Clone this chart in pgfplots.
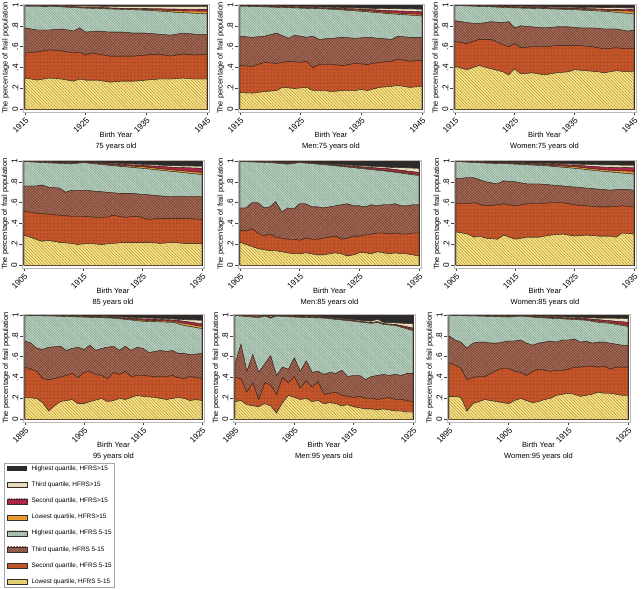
\documentclass[border=0pt]{standalone}
\usepackage{pgfplots}
\pgfplotsset{compat=1.18}
\usetikzlibrary{patterns.meta}
\usepackage{fontspec}
\setmainfont{Liberation Sans}
\definecolor{cLine}{HTML}{3A2A22}
\definecolor{cDark}{HTML}{2B2B2B}
\definecolor{cBeige}{HTML}{EAE4C6}
\definecolor{cBeigeP}{HTML}{CFC69C}
\definecolor{cCrim}{HTML}{C42A50}
\definecolor{cCrimP}{HTML}{8A1838}
\definecolor{cOrng}{HTML}{F0A236}
\definecolor{cOrngP}{HTML}{D07E1E}
\definecolor{cGreen}{HTML}{BFD4C5}
\definecolor{cGreenP}{HTML}{7E9E8C}
\definecolor{cBrown}{HTML}{AE7460}
\definecolor{cBrownP}{HTML}{784434}
\definecolor{cRed}{HTML}{C9592C}
\definecolor{cRedP}{HTML}{983A1A}
\definecolor{cYel}{HTML}{FAE488}
\definecolor{cYelP}{HTML}{AE8E3A}
\newcommand\tickfont{\fontsize{8.3}{9}\selectfont}
\newcommand\labfont{\fontsize{7.5}{10.5}\selectfont}
\pgfplotsset{
  panel/.style={
    scale only axis, height=108pt, anchor=north west,
    ymin=-0.026, ymax=1.0096,
    ytick={0,0.2,0.4,0.6,0.8,1}, yticklabels={0,.2,.4,.6,.8,1},
    tick align=outside, xtick pos=left, ytick pos=left,
    major tick length=3pt,
    tick style={draw=black!75, line width=0.5pt},
    axis line style={draw=gray!55, line width=0.7pt},
    xticklabel style={rotate=45, anchor=north east, inner sep=1pt, font=\tickfont},
    yticklabel style={rotate=90, anchor=south, inner sep=1.5pt, font=\tickfont},
    ylabel={The percentage of frail population},
    every axis y label/.style={at={(axis description cs:-0.093,0.5)}, anchor=center, rotate=90, font=\labfont, inner sep=0pt},
    every axis x label/.style={at={(axis description cs:0.5,0)}, anchor=north, yshift=-20pt, align=center, font=\labfont, inner sep=0pt},
  },
  r1/.style={xmin=1914.66, xmax=1945.34, xtick={1915,1925,1935,1945}, xticklabels={1915,1925,1935,1945}},
  r2/.style={xmin=1904.66, xmax=1935.34, xtick={1905,1915,1925,1935}, xticklabels={1905,1915,1925,1935}},
  r3/.style={xmin=1894.66, xmax=1925.34, xtick={1895,1905,1915,1925}, xticklabels={1895,1905,1915,1925}},
  L8/.style={fill=cDark, draw=cLine, line width=0.35pt},
  L7/.style={fill=cBeige, draw=cLine, line width=0.35pt, postaction={pattern={Dots[distance=1.6pt,radius=0.4pt]}, pattern color=cBeigeP}},
  L6/.style={fill=cCrim, draw=cLine, line width=0.35pt, postaction={pattern={Lines[angle=45,distance=1.8pt,line width=0.5pt]}, pattern color=cCrimP}},
  L5/.style={fill=cOrng, draw=cLine, line width=0.35pt, postaction={pattern={Dots[distance=1.6pt,radius=0.4pt]}, pattern color=cOrngP}},
  L4/.style={fill=cGreen, draw=cLine, line width=0.35pt, postaction={pattern={Lines[angle=-45,distance=1.8pt,line width=0.5pt]}, pattern color=cGreenP}},
  L3/.style={fill=cBrown, draw=cLine, line width=0.35pt, postaction={pattern={Hatch[angle=45,distance=2pt,line width=0.45pt]}, pattern color=cBrownP}},
  L2/.style={fill=cRed, draw=cLine, line width=0.35pt, postaction={pattern={Dots[distance=1.4pt,radius=0.35pt]}, pattern color=cRedP}},
  L1/.style={fill=cYel, draw=cLine, line width=0.35pt, postaction={pattern={Lines[angle=-45,distance=2.2pt,line width=0.45pt]}, pattern color=cYelP}},
}
\begin{document}
\begin{tikzpicture}
\path[use as bounding box] (0,0) rectangle (641pt,-589pt);

% ---------- Row 1: 75 years old ----------
\begin{axis}[panel, r1, at={(23pt,-4pt)}, width=186pt, xlabel={Birth Year\\75 years old}]
\addplot[L8] coordinates {(1915,1)(1945,1)} \closedcycle;
\addplot[L7] coordinates {(1915,0.997)(1920,0.994)(1925,0.99)(1930,0.985)(1935,0.985)(1940,0.985)(1945,0.985)} \closedcycle;
\addplot[L6] coordinates {(1915,0.994)(1920,0.99)(1925,0.98)(1930,0.97)(1935,0.965)(1940,0.96)(1945,0.958)} \closedcycle;
\addplot[L5] coordinates {(1915,0.992)(1920,0.988)(1925,0.975)(1930,0.965)(1935,0.958)(1940,0.945)(1945,0.94)} \closedcycle;
\addplot[L4] coordinates {(1915,0.99)(1920,0.985)(1925,0.97)(1930,0.96)(1935,0.95)(1940,0.93)(1945,0.915)} \closedcycle;
\addplot[L3] coordinates {(1915,0.78)(1917,0.76)(1919,0.76)(1921,0.77)(1923,0.75)(1924,0.78)(1925,0.74)(1927,0.75)(1929,0.74)(1931,0.74)(1933,0.73)(1935,0.73)(1937,0.72)(1939,0.71)(1941,0.73)(1943,0.72)(1945,0.72)} \closedcycle;
\addplot[L2] coordinates {(1915,0.54)(1917,0.55)(1919,0.57)(1921,0.56)(1923,0.54)(1924,0.55)(1925,0.52)(1926,0.54)(1927,0.53)(1929,0.51)(1931,0.51)(1933,0.51)(1935,0.52)(1937,0.53)(1939,0.51)(1941,0.53)(1943,0.52)(1945,0.53)} \closedcycle;
\addplot[L1] coordinates {(1915,0.30)(1917,0.28)(1919,0.30)(1921,0.29)(1923,0.27)(1924,0.29)(1925,0.28)(1927,0.28)(1929,0.26)(1931,0.27)(1933,0.27)(1935,0.28)(1937,0.29)(1939,0.29)(1941,0.30)(1943,0.29)(1945,0.29)} \closedcycle;
\end{axis}

\begin{axis}[panel, r1, at={(238pt,-4pt)}, width=186pt, xlabel={Birth Year\\Men:75 years old}]
\addplot[L8] coordinates {(1915,1)(1945,1)} \closedcycle;
\addplot[L7] coordinates {(1915,0.996)(1920,0.992)(1925,0.985)(1930,0.978)(1935,0.97)(1940,0.965)(1945,0.96)} \closedcycle;
\addplot[L6] coordinates {(1915,0.994)(1920,0.988)(1925,0.98)(1930,0.97)(1935,0.96)(1940,0.945)(1945,0.935)} \closedcycle;
\addplot[L5] coordinates {(1915,0.992)(1920,0.984)(1925,0.975)(1930,0.965)(1935,0.95)(1940,0.925)(1945,0.91)} \closedcycle;
\addplot[L4] coordinates {(1915,0.99)(1920,0.98)(1925,0.97)(1930,0.96)(1935,0.94)(1940,0.915)(1945,0.895)} \closedcycle;
\addplot[L3] coordinates {(1915,0.70)(1917,0.69)(1919,0.70)(1921,0.73)(1923,0.68)(1924,0.71)(1926,0.69)(1927,0.70)(1928,0.67)(1930,0.68)(1932,0.69)(1934,0.68)(1936,0.69)(1938,0.68)(1940,0.67)(1941,0.70)(1943,0.69)(1945,0.69)} \closedcycle;
\addplot[L2] coordinates {(1915,0.42)(1917,0.41)(1919,0.45)(1921,0.44)(1923,0.46)(1925,0.45)(1926,0.46)(1927,0.40)(1928,0.43)(1930,0.43)(1932,0.42)(1934,0.44)(1936,0.43)(1938,0.45)(1940,0.46)(1941,0.48)(1943,0.46)(1945,0.47)} \closedcycle;
\addplot[L1] coordinates {(1915,0.16)(1917,0.155)(1919,0.17)(1921,0.18)(1922,0.21)(1924,0.20)(1926,0.21)(1927,0.18)(1929,0.18)(1930,0.17)(1932,0.18)(1934,0.18)(1935,0.19)(1936,0.18)(1938,0.21)(1940,0.22)(1941,0.23)(1943,0.21)(1945,0.22)} \closedcycle;
\end{axis}

\begin{axis}[panel, r1, at={(453pt,-4pt)}, width=183pt, xlabel={Birth Year\\Women:75 years old}]
\addplot[L8] coordinates {(1915,1)(1945,1)} \closedcycle;
\addplot[L7] coordinates {(1915,0.998)(1920,0.993)(1925,0.987)(1930,0.982)(1935,0.978)(1940,0.975)(1945,0.972)} \closedcycle;
\addplot[L6] coordinates {(1915,0.997)(1920,0.99)(1925,0.982)(1930,0.975)(1935,0.968)(1940,0.96)(1945,0.955)} \closedcycle;
\addplot[L5] coordinates {(1915,0.996)(1920,0.988)(1925,0.977)(1930,0.97)(1935,0.962)(1940,0.95)(1945,0.94)} \closedcycle;
\addplot[L4] coordinates {(1915,0.995)(1920,0.985)(1925,0.972)(1930,0.965)(1935,0.955)(1940,0.94)(1945,0.915)} \closedcycle;
\addplot[L3] coordinates {(1915,0.85)(1917,0.83)(1919,0.82)(1921,0.84)(1923,0.83)(1924,0.84)(1925,0.78)(1926,0.80)(1928,0.79)(1930,0.78)(1932,0.79)(1934,0.79)(1936,0.78)(1938,0.78)(1940,0.77)(1942,0.77)(1944,0.75)(1945,0.76)} \closedcycle;
\addplot[L2] coordinates {(1915,0.65)(1917,0.63)(1919,0.67)(1921,0.67)(1923,0.62)(1924,0.60)(1925,0.63)(1926,0.59)(1928,0.60)(1930,0.60)(1932,0.61)(1934,0.61)(1936,0.61)(1938,0.60)(1940,0.58)(1942,0.59)(1944,0.58)(1945,0.58)} \closedcycle;
\addplot[L1] coordinates {(1915,0.41)(1917,0.38)(1919,0.42)(1921,0.39)(1923,0.36)(1924,0.33)(1925,0.39)(1926,0.34)(1928,0.35)(1930,0.33)(1932,0.35)(1934,0.36)(1935,0.38)(1937,0.37)(1939,0.36)(1940,0.35)(1942,0.37)(1944,0.36)(1945,0.36)} \closedcycle;
\end{axis}

% ---------- Row 2: 85 years old ----------
\begin{axis}[panel, r2, at={(22pt,-160pt)}, width=182pt, xlabel={Birth Year\\85 years old}]
\addplot[L8] coordinates {(1905,1)(1935,1)} \closedcycle;
\addplot[L7] coordinates {(1905,0.998)(1910,0.99)(1913,0.985)(1915,0.992)(1920,0.977)(1925,0.968)(1930,0.955)(1935,0.95)} \closedcycle;
\addplot[L6] coordinates {(1905,0.997)(1910,0.986)(1913,0.98)(1915,0.989)(1920,0.97)(1925,0.958)(1930,0.94)(1935,0.93)} \closedcycle;
\addplot[L5] coordinates {(1905,0.996)(1910,0.983)(1913,0.976)(1915,0.987)(1920,0.962)(1925,0.945)(1930,0.915)(1935,0.89)} \closedcycle;
\addplot[L4] coordinates {(1905,0.995)(1910,0.98)(1913,0.972)(1915,0.985)(1920,0.955)(1925,0.93)(1930,0.90)(1935,0.87)} \closedcycle;
\addplot[L3] coordinates {(1905,0.76)(1907,0.76)(1908,0.77)(1909,0.75)(1911,0.74)(1912,0.70)(1913,0.72)(1915,0.72)(1917,0.71)(1919,0.70)(1921,0.69)(1923,0.69)(1925,0.68)(1927,0.67)(1929,0.66)(1931,0.66)(1933,0.66)(1935,0.66)} \closedcycle;
\addplot[L2] coordinates {(1905,0.52)(1907,0.50)(1909,0.49)(1911,0.48)(1913,0.47)(1915,0.47)(1917,0.46)(1919,0.46)(1920,0.48)(1922,0.46)(1924,0.47)(1926,0.44)(1928,0.45)(1930,0.45)(1932,0.45)(1935,0.44)} \closedcycle;
\addplot[L1] coordinates {(1905,0.29)(1907,0.25)(1908,0.23)(1909,0.24)(1911,0.22)(1913,0.21)(1914,0.20)(1916,0.21)(1918,0.20)(1920,0.21)(1922,0.22)(1924,0.22)(1926,0.22)(1928,0.21)(1930,0.22)(1932,0.21)(1935,0.21)} \closedcycle;
\end{axis}

\begin{axis}[panel, r2, at={(238pt,-160pt)}, width=183pt, xlabel={Birth Year\\Men:85 years old}]
\addplot[L8] coordinates {(1905,1)(1935,1)} \closedcycle;
\addplot[L7] coordinates {(1905,0.998)(1910,0.992)(1913,0.983)(1915,0.991)(1920,0.972)(1925,0.955)(1930,0.94)(1935,0.93)} \closedcycle;
\addplot[L6] coordinates {(1905,0.997)(1910,0.989)(1913,0.978)(1915,0.989)(1920,0.967)(1925,0.945)(1930,0.925)(1935,0.89)} \closedcycle;
\addplot[L5] coordinates {(1905,0.996)(1910,0.987)(1913,0.974)(1915,0.987)(1920,0.963)(1925,0.935)(1930,0.905)(1935,0.87)} \closedcycle;
\addplot[L4] coordinates {(1905,0.995)(1910,0.985)(1913,0.97)(1915,0.985)(1920,0.96)(1925,0.93)(1930,0.90)(1935,0.86)} \closedcycle;
\addplot[L3] coordinates {(1905,0.55)(1906,0.55)(1907,0.60)(1908,0.60)(1909,0.55)(1910,0.56)(1911,0.61)(1912,0.51)(1913,0.55)(1914,0.54)(1915,0.59)(1916,0.59)(1917,0.56)(1918,0.56)(1919,0.55)(1920,0.56)(1921,0.57)(1922,0.58)(1923,0.59)(1924,0.57)(1925,0.57)(1926,0.56)(1927,0.58)(1928,0.57)(1929,0.58)(1930,0.58)(1931,0.59)(1932,0.57)(1933,0.57)(1934,0.58)(1935,0.58)} \closedcycle;
\addplot[L2] coordinates {(1905,0.33)(1906,0.33)(1907,0.35)(1908,0.31)(1909,0.28)(1910,0.30)(1911,0.27)(1912,0.26)(1913,0.25)(1914,0.25)(1915,0.24)(1916,0.26)(1917,0.25)(1918,0.25)(1919,0.26)(1920,0.27)(1921,0.28)(1922,0.25)(1923,0.26)(1924,0.28)(1925,0.28)(1926,0.29)(1927,0.30)(1928,0.31)(1929,0.31)(1930,0.30)(1931,0.31)(1932,0.30)(1933,0.30)(1934,0.31)(1935,0.31)} \closedcycle;
\addplot[L1] coordinates {(1905,0.22)(1906,0.20)(1907,0.18)(1908,0.16)(1909,0.15)(1910,0.14)(1911,0.14)(1912,0.13)(1913,0.12)(1914,0.11)(1915,0.11)(1916,0.12)(1917,0.11)(1918,0.10)(1919,0.10)(1920,0.11)(1921,0.12)(1922,0.11)(1923,0.09)(1924,0.10)(1925,0.12)(1926,0.12)(1927,0.11)(1928,0.13)(1929,0.12)(1930,0.11)(1931,0.12)(1932,0.11)(1933,0.11)(1934,0.10)(1935,0.09)} \closedcycle;
\end{axis}

\begin{axis}[panel, r2, at={(454pt,-160pt)}, width=182pt, xlabel={Birth Year\\Women:85 years old}]
\addplot[L8] coordinates {(1905,1)(1935,1)} \closedcycle;
\addplot[L7] coordinates {(1905,0.998)(1910,0.99)(1913,0.986)(1915,0.983)(1920,0.977)(1925,0.97)(1930,0.962)(1935,0.96)} \closedcycle;
\addplot[L6] coordinates {(1905,0.997)(1910,0.986)(1913,0.982)(1915,0.978)(1920,0.97)(1925,0.96)(1930,0.94)(1935,0.935)} \closedcycle;
\addplot[L5] coordinates {(1905,0.996)(1910,0.983)(1913,0.978)(1915,0.974)(1920,0.962)(1925,0.945)(1930,0.915)(1935,0.90)} \closedcycle;
\addplot[L4] coordinates {(1905,0.995)(1910,0.98)(1913,0.975)(1915,0.97)(1920,0.955)(1925,0.93)(1930,0.90)(1935,0.875)} \closedcycle;
\addplot[L3] coordinates {(1905,0.83)(1907,0.84)(1908,0.84)(1910,0.80)(1912,0.78)(1913,0.81)(1915,0.80)(1917,0.78)(1919,0.78)(1921,0.77)(1923,0.76)(1925,0.75)(1927,0.74)(1929,0.73)(1931,0.72)(1933,0.73)(1935,0.72)} \closedcycle;
\addplot[L2] coordinates {(1905,0.59)(1907,0.59)(1908,0.60)(1910,0.57)(1912,0.58)(1913,0.59)(1915,0.57)(1917,0.59)(1919,0.59)(1921,0.60)(1923,0.60)(1925,0.58)(1927,0.57)(1929,0.56)(1931,0.56)(1933,0.57)(1935,0.56)} \closedcycle;
\addplot[L1] coordinates {(1905,0.32)(1907,0.30)(1908,0.27)(1909,0.28)(1910,0.26)(1912,0.25)(1913,0.29)(1915,0.25)(1917,0.27)(1919,0.27)(1921,0.29)(1923,0.30)(1925,0.28)(1927,0.29)(1929,0.28)(1931,0.28)(1932,0.27)(1933,0.31)(1935,0.30)} \closedcycle;
\end{axis}

% ---------- Row 3: 95 years old ----------
\begin{axis}[panel, r3, at={(23pt,-314pt)}, width=181pt, xlabel={Birth Year\\95 years old},
  legend cell align=left,
  legend image code/.code={\fill[#1,draw=none] (0pt,-2.5pt) rectangle (20pt,2.5pt);},
  legend style={at={(axis description cs:-0.105,-0.38)}, anchor=north west, draw=gray!70, line width=0.5pt, fill=white,
    font=\fontsize{6.4}{7}\selectfont, inner xsep=3pt, inner ysep=2.7pt, row sep=10.1pt, column sep=4pt,
    nodes={inner sep=0pt, text height=4.6pt, text depth=1.4pt}}]
\addplot[L8] coordinates {(1895,1)(1925,1)} \closedcycle;
\addlegendentry{Highest quartile, HFRS>15}
\addplot[L7] coordinates {(1895,0.998)(1900,0.996)(1905,0.99)(1910,0.984)(1915,0.972)(1920,0.962)(1922,0.955)(1925,0.95)} \closedcycle;
\addlegendentry{Third quartile, HFRS>15}
\addplot[L6] coordinates {(1895,0.997)(1900,0.994)(1905,0.986)(1910,0.978)(1915,0.962)(1920,0.952)(1922,0.94)(1925,0.915)} \closedcycle;
\addlegendentry{Second quartile, HFRS>15}
\addplot[L5] coordinates {(1895,0.996)(1900,0.992)(1905,0.983)(1910,0.974)(1915,0.95)(1920,0.94)(1922,0.92)(1925,0.89)} \closedcycle;
\addlegendentry{Lowest quartile, HFRS>15}
\addplot[L4] coordinates {(1895,0.995)(1900,0.99)(1905,0.98)(1910,0.97)(1915,0.94)(1920,0.93)(1922,0.90)(1925,0.87)} \closedcycle;
\addlegendentry{Highest quartile, HFRS 5-15}
\addplot[L3] coordinates {(1895,0.75)(1896,0.73)(1897,0.68)(1898,0.67)(1899,0.69)(1901,0.70)(1902,0.66)(1903,0.68)(1904,0.69)(1905,0.67)(1906,0.71)(1907,0.66)(1908,0.68)(1910,0.70)(1911,0.66)(1912,0.70)(1913,0.66)(1914,0.69)(1915,0.68)(1916,0.64)(1918,0.66)(1919,0.65)(1920,0.66)(1921,0.63)(1922,0.63)(1923,0.62)(1925,0.63)} \closedcycle;
\addlegendentry{Third quartile, HFRS 5-15}
\addplot[L2] coordinates {(1895,0.50)(1897,0.46)(1898,0.39)(1899,0.38)(1900,0.39)(1902,0.42)(1903,0.44)(1904,0.40)(1905,0.45)(1906,0.46)(1907,0.43)(1908,0.42)(1909,0.39)(1910,0.45)(1911,0.43)(1912,0.46)(1913,0.41)(1914,0.42)(1915,0.42)(1917,0.41)(1919,0.41)(1920,0.42)(1921,0.40)(1922,0.39)(1923,0.41)(1924,0.40)(1925,0.39)} \closedcycle;
\addlegendentry{Second quartile, HFRS 5-15}
\addplot[L1] coordinates {(1895,0.21)(1897,0.20)(1898,0.16)(1899,0.08)(1900,0.13)(1901,0.17)(1902,0.18)(1903,0.19)(1904,0.15)(1905,0.15)(1906,0.17)(1908,0.20)(1909,0.17)(1910,0.18)(1911,0.20)(1912,0.19)(1913,0.21)(1914,0.23)(1915,0.22)(1917,0.21)(1918,0.20)(1919,0.19)(1920,0.20)(1921,0.21)(1922,0.20)(1923,0.18)(1924,0.19)(1925,0.18)} \closedcycle;
\addlegendentry{Lowest quartile, HFRS 5-15}
\end{axis}

\begin{axis}[panel, r3, at={(233pt,-314pt)}, width=182pt, xlabel={Birth Year\\Men:95 years old}]
\addplot[L8] coordinates {(1895,1)(1925,1)} \closedcycle;
\addplot[L7] coordinates {(1895,0.998)(1899,0.995)(1900,0.995)(1901,0.99)(1902,0.996)(1905,0.99)(1910,0.98)(1915,0.955)(1918,0.94)(1919,0.96)(1920,0.93)(1922,0.925)(1925,0.915)} \closedcycle;
\addplot[L6] coordinates {(1895,0.997)(1899,0.99)(1900,0.992)(1901,0.98)(1902,0.993)(1905,0.985)(1910,0.975)(1915,0.947)(1918,0.927)(1919,0.937)(1920,0.917)(1922,0.91)(1925,0.875)} \closedcycle;
\addplot[L5] coordinates {(1895,0.996)(1899,0.985)(1900,0.991)(1901,0.975)(1902,0.991)(1905,0.982)(1910,0.972)(1915,0.943)(1918,0.923)(1919,0.933)(1920,0.913)(1922,0.905)(1925,0.86)} \closedcycle;
\addplot[L4] coordinates {(1895,0.995)(1899,0.975)(1900,0.99)(1901,0.97)(1902,0.99)(1905,0.98)(1910,0.97)(1915,0.94)(1918,0.92)(1919,0.93)(1920,0.91)(1922,0.90)(1925,0.85)} \closedcycle;
\addplot[L3] coordinates {(1895,0.53)(1896,0.72)(1897,0.46)(1898,0.62)(1899,0.45)(1900,0.53)(1901,0.61)(1902,0.42)(1903,0.50)(1904,0.48)(1905,0.59)(1906,0.46)(1907,0.56)(1908,0.45)(1909,0.46)(1910,0.43)(1911,0.45)(1912,0.44)(1913,0.47)(1914,0.41)(1915,0.42)(1916,0.42)(1917,0.38)(1918,0.41)(1919,0.42)(1920,0.43)(1921,0.42)(1922,0.43)(1923,0.42)(1924,0.44)(1925,0.44)} \closedcycle;
\addplot[L2] coordinates {(1895,0.40)(1896,0.39)(1897,0.26)(1898,0.35)(1899,0.19)(1900,0.35)(1901,0.33)(1902,0.24)(1903,0.40)(1904,0.35)(1905,0.41)(1906,0.30)(1907,0.37)(1908,0.31)(1909,0.36)(1910,0.24)(1911,0.25)(1912,0.26)(1913,0.23)(1914,0.22)(1915,0.21)(1916,0.22)(1917,0.20)(1918,0.20)(1919,0.19)(1920,0.20)(1921,0.21)(1922,0.19)(1923,0.19)(1924,0.18)(1925,0.17)} \closedcycle;
\addplot[L1] coordinates {(1895,0.17)(1896,0.18)(1897,0.14)(1898,0.13)(1899,0.12)(1900,0.15)(1901,0.13)(1902,0.06)(1903,0.16)(1904,0.23)(1905,0.21)(1906,0.19)(1907,0.20)(1908,0.17)(1909,0.18)(1910,0.15)(1911,0.16)(1912,0.15)(1913,0.13)(1914,0.14)(1915,0.12)(1916,0.11)(1917,0.10)(1918,0.10)(1919,0.09)(1920,0.10)(1921,0.09)(1922,0.08)(1923,0.08)(1924,0.07)(1925,0.07)} \closedcycle;
\end{axis}

\begin{axis}[panel, r3, at={(447pt,-314pt)}, width=183pt, xlabel={Birth Year\\Women:95 years old}]
\addplot[L8] coordinates {(1895,1)(1925,1)} \closedcycle;
\addplot[L7] coordinates {(1895,0.998)(1900,0.996)(1905,0.99)(1907,0.995)(1910,0.988)(1915,0.98)(1918,0.975)(1920,0.97)(1922,0.97)(1925,0.965)} \closedcycle;
\addplot[L6] coordinates {(1895,0.997)(1900,0.994)(1905,0.986)(1907,0.993)(1910,0.982)(1915,0.972)(1918,0.965)(1920,0.955)(1922,0.945)(1925,0.93)} \closedcycle;
\addplot[L5] coordinates {(1895,0.996)(1900,0.992)(1905,0.983)(1907,0.991)(1910,0.978)(1915,0.965)(1918,0.955)(1920,0.94)(1922,0.93)(1925,0.90)} \closedcycle;
\addplot[L4] coordinates {(1895,0.995)(1900,0.99)(1905,0.98)(1907,0.99)(1910,0.975)(1915,0.96)(1918,0.95)(1920,0.93)(1922,0.92)(1925,0.89)} \closedcycle;
\addplot[L3] coordinates {(1895,0.80)(1896,0.76)(1897,0.74)(1898,0.68)(1899,0.73)(1900,0.74)(1901,0.74)(1902,0.73)(1903,0.73)(1904,0.74)(1905,0.75)(1906,0.75)(1907,0.76)(1908,0.73)(1909,0.71)(1910,0.73)(1911,0.74)(1912,0.75)(1913,0.74)(1914,0.76)(1915,0.76)(1916,0.77)(1917,0.74)(1918,0.75)(1919,0.73)(1920,0.74)(1921,0.74)(1922,0.73)(1923,0.72)(1924,0.71)(1925,0.71)} \closedcycle;
\addplot[L2] coordinates {(1895,0.54)(1896,0.52)(1897,0.49)(1898,0.38)(1899,0.40)(1900,0.41)(1901,0.41)(1902,0.44)(1903,0.47)(1904,0.49)(1905,0.49)(1906,0.46)(1907,0.45)(1908,0.42)(1909,0.46)(1910,0.48)(1911,0.47)(1912,0.46)(1913,0.47)(1914,0.47)(1915,0.48)(1916,0.50)(1917,0.50)(1918,0.51)(1919,0.51)(1920,0.50)(1921,0.51)(1922,0.48)(1923,0.50)(1924,0.50)(1925,0.50)} \closedcycle;
\addplot[L1] coordinates {(1895,0.22)(1896,0.22)(1897,0.21)(1898,0.08)(1899,0.15)(1900,0.17)(1901,0.19)(1902,0.18)(1903,0.17)(1904,0.16)(1905,0.15)(1906,0.18)(1907,0.20)(1908,0.18)(1909,0.16)(1910,0.17)(1911,0.19)(1912,0.20)(1913,0.23)(1914,0.24)(1915,0.25)(1916,0.24)(1917,0.22)(1918,0.23)(1919,0.24)(1920,0.26)(1921,0.25)(1922,0.25)(1923,0.24)(1924,0.23)(1925,0.23)} \closedcycle;
\end{axis}
\end{tikzpicture}
\end{document}
